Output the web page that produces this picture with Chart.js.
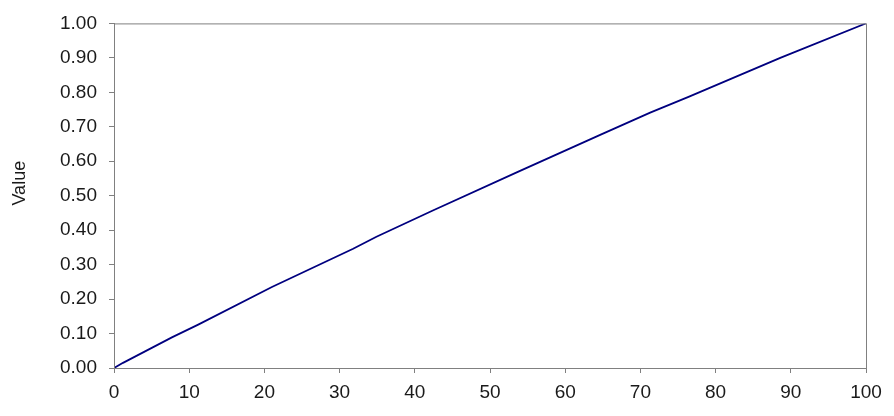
<!DOCTYPE html>
<html>
<head>
<meta charset="utf-8">
<script src="https://cdn.jsdelivr.net/npm/chart.js@4.4.1/dist/chart.umd.min.js"></script>
<style>
    html, body { margin: 0; padding: 0; background: #fff; }
    #wrap { width: 894px; height: 416px; }
</style>
</head>
<body>
<div id="wrap"><canvas id="chart" width="894" height="416"></canvas></div>
<script>
// values
const xValues = [0, 1.2, 7.7, 11.2, 21, 31.8, 34.9, 42.4, 53.7, 64.8, 71.3, 76.4, 88.6, 100];
const yValues = [0, 0.015, 0.089, 0.126, 0.235, 0.346, 0.381, 0.457, 0.569, 0.678, 0.741, 0.787, 0.9, 1];
const yTitle = 'Value';

const axisColor = '#808080';
const lineColor = '#00007f';

// frame round the plot area (top and right sides too)
const framePlugin = {
    id: 'frame',
    afterDraw(chart) {
        const a = chart.chartArea;
        const ctx = chart.ctx;
        ctx.save();
        ctx.strokeStyle = axisColor;
        ctx.lineWidth = 1;
        ctx.strokeRect(a.left + 0.5, a.top + 0.5, a.right - a.left, a.bottom - a.top);
        ctx.restore();
    },
};

Chart.defaults.font.family = '"Liberation Sans", Arial, sans-serif';
Chart.defaults.font.size = 19;
Chart.defaults.color = '#1a1a1a';

new Chart(document.getElementById('chart').getContext('2d'), {
    type: 'scatter',
    data: {
        datasets: [
            {
                label: yTitle,
                data: xValues.map((x, i) => ({ x, y: yValues[i] })),
                showLine: true,
                borderColor: lineColor,
                borderWidth: 1.8,
                pointRadius: 0,
                tension: 0,
            },
        ],
    },
    options: {
        responsive: false,
        animation: false,
        layout: { padding: { top: 22, right: 28, left: 0, bottom: 0 } },
        plugins: {
            legend: { display: false },
            tooltip: { enabled: false },
        },
        scales: {
            x: {
                type: 'linear',
                min: 0,
                max: 100,
                ticks: { stepSize: 10, padding: 8, maxRotation: 0 },
                grid: { drawOnChartArea: false, drawTicks: true, tickLength: 5, color: axisColor },
                border: { color: axisColor },
                afterFit: (s) => { s.height = 48; },
            },
            y: {
                min: 0,
                max: 1,
                ticks: {
                    stepSize: 0.1,
                    padding: 12,
                    callback: (v) => Number(v).toFixed(2),
                },
                title: {
                    display: true,
                    // leading spaces nudge the rotated label up a little, as in the original
                    text: '     ' + yTitle,
                    font: { size: 18 },
                    padding: { top: 9, bottom: 0 },
                },
                grid: { drawOnChartArea: false, drawTicks: true, tickLength: 5, color: axisColor },
                border: { color: axisColor },
                afterFit: (s) => { s.width = 114; },
            },
        },
    },
    plugins: [framePlugin],
});
</script>
</body>
</html>
